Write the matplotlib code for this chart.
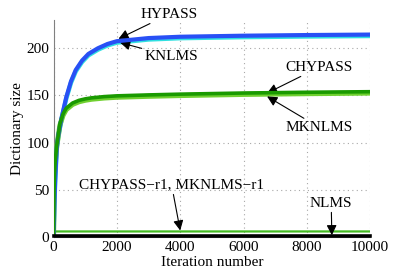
import matplotlib
matplotlib.use("Agg")
import matplotlib.pyplot as plt

plt.rcParams['font.family'] = ['Liberation Serif', 'DejaVu Serif']
plt.rcParams['font.size'] = 11

blue_iter = [0, 25, 50, 100, 150, 250, 400, 550, 700, 900, 1100, 1400, 1700, 2000, 3000, 4000, 6000, 8000, 10000]
hypass = [0, 35, 60, 95, 108, 126, 148, 165, 177, 187, 194, 200, 204.5, 207.5, 210.8, 212.2, 213.3, 214, 214.5]
knlms = [0, 34, 59, 94, 107, 124.5, 146.5, 163.5, 175.5, 185.5, 192.5, 198.5, 203, 206, 209.3, 210.7, 211.8, 212.5, 213]
green_iter = [0, 15, 30, 50, 100, 200, 300, 400, 600, 800, 1000, 1200, 1600, 2000, 3000, 4000, 6000, 8000, 10000]
chypass = [0, 50, 68, 80, 97, 120, 130.5, 136.5, 142, 144.8, 146.4, 147.5, 148.8, 149.6, 150.6, 151.4, 152.6, 153.4, 154]
mknlms = [0, 49, 67, 79, 96, 118.5, 129, 135, 140.5, 143.3, 144.9, 146, 147.3, 148.1, 149.1, 149.9, 151.1, 151.9, 152.5]
r1_iter = [0, 10, 10000]
r1_size = [0, 6, 6]
nlms_iter = [0, 10000]
nlms_size = [1, 1]

xticks = [0, 2000, 4000, 6000, 8000, 10000]
yticks = [0, 50, 100, 150, 200]

fig = plt.figure(figsize=(4.09, 2.77), dpi=100)
ax = fig.add_axes([0.131, 0.144, 0.774, 0.784])

ax.plot(blue_iter, knlms, color='#30e0e0', lw=3.2, solid_capstyle='butt', zorder=3)
ax.plot(blue_iter, hypass, color='#2850f5', lw=3.0, solid_capstyle='butt', zorder=4)
ax.plot(green_iter, mknlms, color='#70d030', lw=3.6, solid_capstyle='butt', zorder=3)
ax.plot(green_iter, chypass, color='#1a9a00', lw=2.6, solid_capstyle='butt', zorder=4)
ax.plot(r1_iter, r1_size, color='#44bb22', lw=1.6, zorder=3)
ax.plot(nlms_iter, nlms_size, color='black', lw=2.6, zorder=5, clip_on=False)

ax.set_xlim(0, 10000)
ax.set_ylim(0, 230)
ax.set_xticks(xticks)
ax.set_yticks(yticks)
ax.grid(True, linestyle=(0, (1, 3)), color='#a8a8a8', lw=0.8)
for s in ['top', 'right']:
    ax.spines[s].set_visible(False)
ax.spines['left'].set_color('#808080')
ax.spines['bottom'].set_color('#808080')
ax.tick_params(length=0, pad=3)

ax.set_xlabel('Iteration number', labelpad=1)
ax.set_ylabel('Dictionary size', labelpad=2)

arrow = dict(arrowstyle='-|>,head_length=0.6,head_width=0.3', color='black', lw=0.8,
             mutation_scale=10, shrinkA=0, shrinkB=0)
kw = dict(ha='center', va='center', arrowprops=arrow, annotation_clip=False)
ax.annotate('HYPASS', xy=(2050, 210), xytext=(3650, 236), **kw)
ax.annotate('KNLMS', xy=(2100, 206), xytext=(3720, 191.5), **kw)
ax.annotate('CHYPASS', xy=(6745, 152.5), xytext=(8400, 180), **kw)
ax.annotate('MKNLMS', xy=(6745, 149), xytext=(8400, 116), **kw)
ax.annotate('CHYPASS\u2212r1, MKNLMS\u2212r1', xy=(4000, 7), xytext=(3730, 55), **kw)
ax.annotate('NLMS', xy=(8790, 2), xytext=(8770, 36), **kw)

fig.savefig('out.png', dpi=100)
